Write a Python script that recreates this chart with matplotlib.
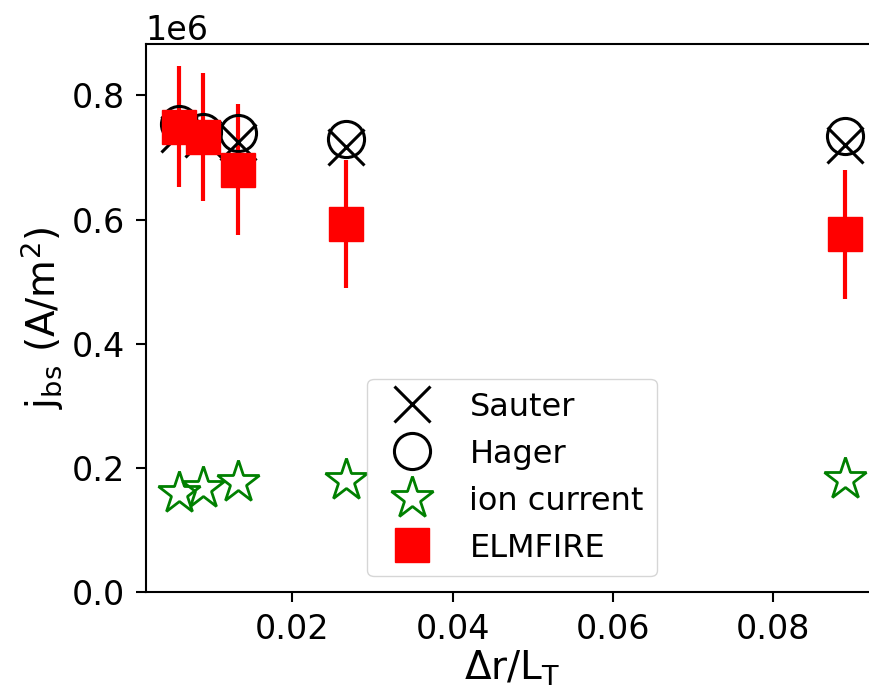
import numpy as np
import matplotlib
matplotlib.use("Agg")
import matplotlib.pyplot as plt

plt.rcParams['font.size'] = 24
plt.rcParams['axes.linewidth'] = 1.5
plt.rcParams['xtick.major.width'] = 1.5
plt.rcParams['ytick.major.width'] = 1.5
plt.rcParams['xtick.major.size'] = 7
plt.rcParams['ytick.major.size'] = 7
plt.rcParams['xtick.major.pad'] = 8
plt.rcParams['ytick.major.pad'] = 8

# data
dr_LT = [0.00587, 0.00882, 0.01326, 0.02666, 0.08894]
sauter = [0.7376e6, 0.7290e6, 0.7253e6, 0.7163e6, 0.7205e6]
hager = [0.7538e6, 0.7414e6, 0.7388e6, 0.7290e6, 0.7345e6]
ion_current = [0.1603e6, 0.1674e6, 0.1780e6, 0.1808e6, 0.1820e6]
elmfire = [0.7495e6, 0.7330e6, 0.6800e6, 0.5926e6, 0.5760e6]
elmfire_err = [0.0977e6, 0.1030e6, 0.1055e6, 0.1033e6, 0.1040e6]

fig = plt.figure(figsize=(8.69, 6.94), dpi=100)
ax = fig.add_axes([0.1677, 0.1465, 0.8427, 0.7897])

#ELMFIRE first so the analytic markers sit on top
h_elm = ax.errorbar(dr_LT, elmfire, yerr=elmfire_err, fmt='s', color='red',
                    ms=24, elinewidth=3, capsize=0, label='ELMFIRE')
h_sau, = ax.plot(dr_LT, sauter, 'x', color='black', ms=26, mew=2.2, label='Sauter')
h_hag, = ax.plot(dr_LT, hager, 'o', color='black', mfc='none', ms=26, mew=2.2, label='Hager')
h_ion, = ax.plot(dr_LT, ion_current, '*', color='green', mfc='none', ms=32, mew=2, label='ion current')

ax.set_ylim(0, 0.882e6)
ax.set_xlim(0.00171, 0.0931)
ax.ticklabel_format(axis='y', style='sci', scilimits=(6, 6))
ax.set_xlabel(r'$\Delta \mathrm{r/L_T}$', fontsize=28, labelpad=2)
ax.set_ylabel(r'$\mathrm{j_{bs}\ (A/m^2)}$', fontsize=28)

ax.legend([h_sau, h_hag, h_ion, h_elm], ['Sauter', 'Hager', 'ion current', 'ELMFIRE'],
          loc='lower center', fontsize=23)

fig.savefig("out.png", dpi=100)
